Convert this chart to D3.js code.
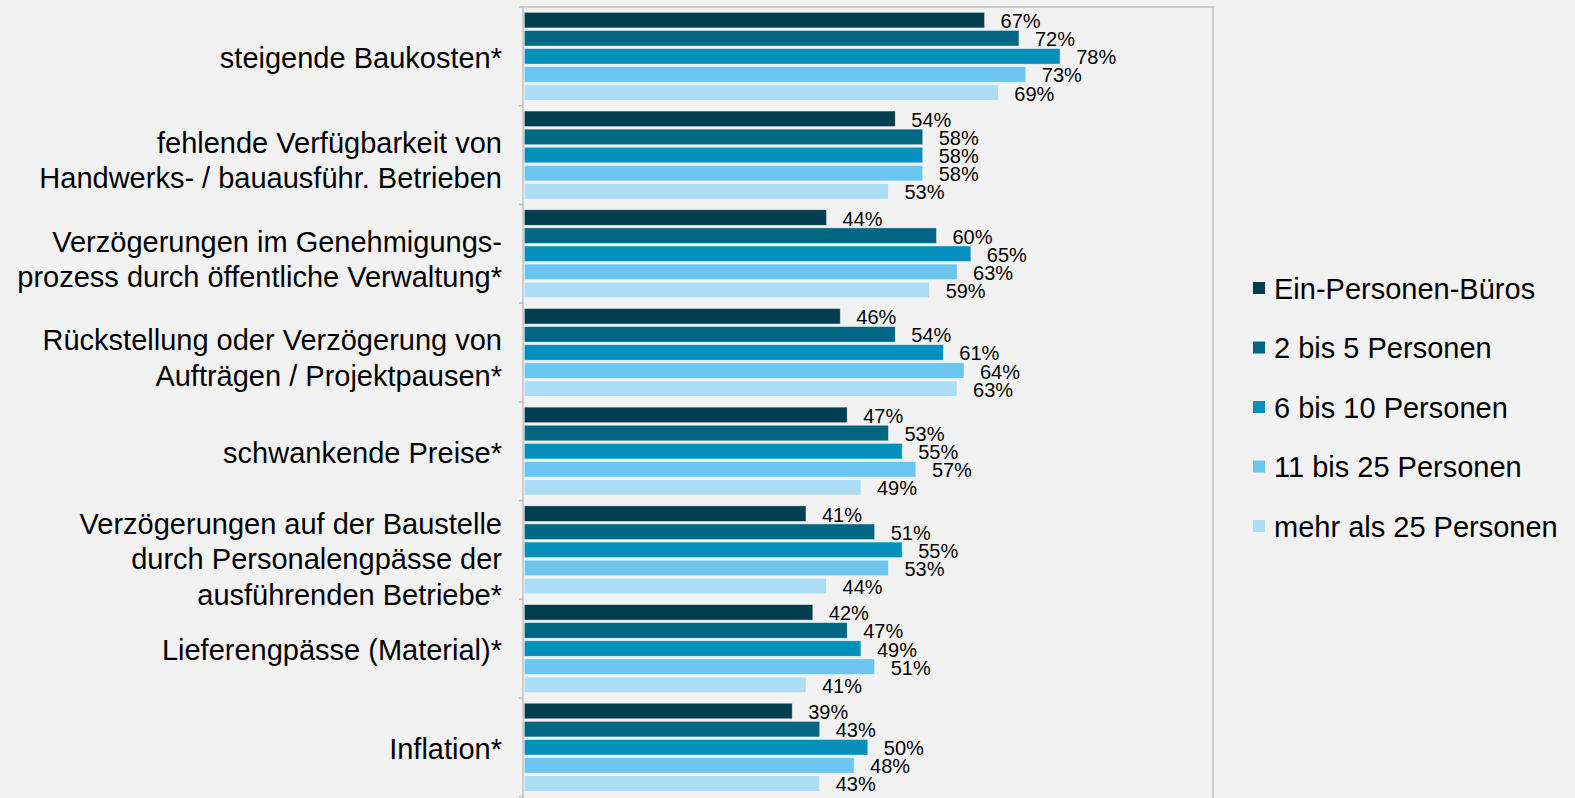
<!DOCTYPE html>
<html>
<head>
<meta charset="utf-8">
<script src="https://cdn.jsdelivr.net/npm/d3@7"></script>
<style>
  html, body { margin: 0; padding: 0; background: #f2f2f2; }
  svg { display: block; font-family: "Liberation Sans", Arial, sans-serif; }
</style>
</head>
<body>
<div id="chart"></div>
<script>
// categories (lines split for multi-line labels)
var categories = [
  ["steigende Baukosten*"],
  ["fehlende Verfügbarkeit von", "Handwerks- / bauausführ. Betrieben"],
  ["Verzögerungen im Genehmigungs-", "prozess durch öffentliche Verwaltung*"],
  ["Rückstellung oder Verzögerung von", "Aufträgen / Projektpausen*"],
  ["schwankende Preise*"],
  ["Verzögerungen auf der Baustelle", "durch Personalengpässe der", "ausführenden Betriebe*"],
  ["Lieferengpässe (Material)*"],
  ["Inflation*"]
];

var seriesNames = ["Ein-Personen-Büros", "2 bis 5 Personen", "6 bis 10 Personen", "11 bis 25 Personen", "mehr als 25 Personen"];

// values in % per series, one entry per category
var einPersonen = [67, 54, 44, 46, 47, 41, 42, 39];
var zweiBisFuenf = [72, 58, 60, 54, 53, 51, 47, 43];
var sechsBisZehn = [78, 58, 65, 61, 55, 55, 49, 50];
var elfBis25 = [73, 58, 63, 64, 57, 53, 51, 48];
var mehrAls25 = [69, 53, 59, 63, 49, 44, 41, 43];

var seriesValues = [einPersonen, zweiBisFuenf, sechsBisZehn, elfBis25, mehrAls25];
var colors = ["#023e50", "#006682", "#0390bb", "#6bc6ef", "#addcf5"];

var width = 1575, height = 798;
var plot = { left: 523, top: 7, right: 1213, bottom: 796.6 };

var svg = d3.select("#chart").append("svg").attr("width", width).attr("height", height);
svg.append("rect").attr("width", width).attr("height", height).attr("fill", "#f2f2f2");

var x = d3.scaleLinear().domain([0, 100]).range([plot.left + 1.3, plot.left + 1.3 + 687]);
var y = d3.scaleBand().domain(d3.range(categories.length)).range([plot.top, plot.bottom])
    .paddingInner(0.108).paddingOuter(0.054);
var ySub = d3.scaleBand().domain(d3.range(seriesNames.length)).range([0, y.bandwidth()]).paddingInner(0.14);

// plot frame
svg.append("rect")
    .attr("x", plot.left).attr("y", plot.top)
    .attr("width", plot.right - plot.left).attr("height", 805 - plot.top)
    .attr("fill", "none").attr("stroke", "#c9c9c9").attr("stroke-width", 1.8);

// ticks at category boundaries
var step = y.step();
svg.append("g").selectAll("line").data(d3.range(categories.length + 1)).enter()
    .append("line")
    .attr("x1", plot.left - 4).attr("x2", plot.left)
    .attr("y1", function(d) { return plot.top + d * step; })
    .attr("y2", function(d) { return plot.top + d * step; })
    .attr("stroke", "#bdbdbd").attr("stroke-width", 1.5);

var groups = svg.append("g").selectAll(".group").data(categories).enter()
    .append("g")
    .attr("class", "group")
    .attr("transform", function(d, i) { return "translate(0," + y(i) + ")"; });

groups.each(function(cat, ci) {
    var g = d3.select(this);
    var rows = seriesValues.map(function(s, si) { return { s: si, v: s[ci] }; });

    g.selectAll("rect").data(rows).enter()
        .append("rect")
        .attr("x", x(0))
        .attr("y", function(d) { return ySub(d.s); })
        .attr("width", function(d) { return x(d.v) - x(0); })
        .attr("height", ySub.bandwidth())
        .attr("fill", function(d) { return colors[d.s]; })
        .attr("stroke", "rgba(255,255,255,0.55)")
        .attr("stroke-width", 0.8);

    g.selectAll("text.val").data(rows).enter()
        .append("text")
        .attr("class", "val")
        .attr("x", function(d) { return x(d.v) + 16; })
        .attr("y", function(d) { return ySub(d.s) + ySub.bandwidth() / 2 + 8; })
        .attr("font-size", 20)
        .attr("fill", "#000")
        .text(function(d) { return d.v + "%"; });
});

// category labels
var lineH = 35.5;
svg.append("g").selectAll("text").data(categories).enter()
    .append("text")
    .attr("text-anchor", "end")
    .attr("font-size", 29)
    .attr("fill", "#000")
    .each(function(lines, i) {
        var c = y(i) + y.bandwidth() / 2 + (lines.length - 1) * 4 + 1;
        var y0 = c - (lines.length - 1) * lineH / 2 + 10.5;
        d3.select(this).selectAll("tspan").data(lines).enter()
            .append("tspan")
            .attr("x", 502)
            .attr("y", function(d, k) { return y0 + k * lineH; })
            .text(function(d) { return d; });
    });

// legend
var legend = svg.append("g").selectAll("g").data(seriesNames).enter()
    .append("g")
    .attr("transform", function(d, i) { return "translate(1253," + (288 + i * 59.5) + ")"; });
legend.append("rect")
    .attr("x", 0).attr("y", -6).attr("width", 12).attr("height", 12)
    .attr("fill", function(d, i) { return colors[i]; });
legend.append("text")
    .attr("x", 21).attr("y", 10.5)
    .attr("font-size", 29)
    .attr("fill", "#000")
    .text(function(d) { return d; });
</script>
</body>
</html>
